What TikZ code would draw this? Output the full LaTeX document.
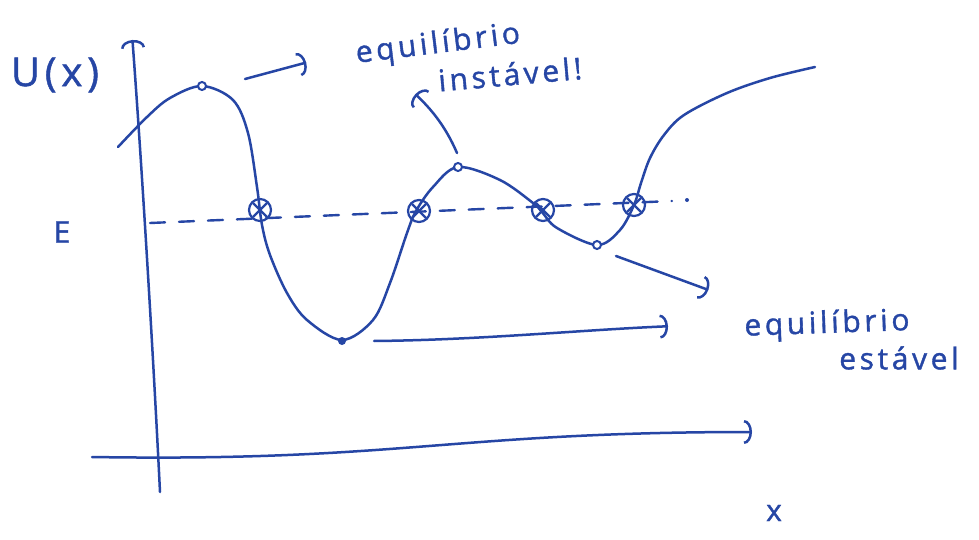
\documentclass[tikz,border=0pt]{standalone}
\usepackage{fontspec}
\setmainfont{Open Sans}
\newfontfamily\handfont[LetterSpace=12,FakeBold=1.2]{Open Sans}
\usetikzlibrary{arrows.meta}
\definecolor{ink}{RGB}{38,70,165}
\begin{document}
\begin{tikzpicture}[x=1pt,y=-1pt,
  inkline/.style={draw=ink, line width=2.5pt, line cap=round, line join=round},
  tipbarb/.style={-{Arc Barb[length=8pt,width=24pt,sep=6pt]}},
  hand/.style={text=ink, font=\handfont\fontsize{30}{34}\selectfont, inner sep=0pt, anchor=center},
  opendot/.style={circle, draw=ink, fill=white, line width=2pt, minimum size=8pt, inner sep=0pt},
  fulldot/.style={circle, fill=ink, minimum size=8pt, inner sep=0pt},
  xmark/.style={circle, draw=ink, line width=2.2pt, minimum size=22pt, inner sep=0pt,
    path picture={\draw[ink, line width=2.2pt]
      ([shift={(-7pt,7pt)}]path picture bounding box.center) -- ([shift={(7pt,-7pt)}]path picture bounding box.center)
      ([shift={(-7pt,-7pt)}]path picture bounding box.center) -- ([shift={(7pt,7pt)}]path picture bounding box.center);}},
  dashline/.style={draw=ink, line width=2.4pt, dash pattern=on 15pt off 14pt, line cap=round}
]
\useasboundingbox (0,0) rectangle (979,540);
\fill[white] (0,0) rectangle (979,540);

% axes
\coordinate (ybot) at (160,492);
\coordinate (ytop) at (132,34);
\draw[inkline, tipbarb] (ybot) .. controls (152,330) and (140,140) .. (ytop);
\coordinate (xl) at (92,457);
\coordinate (xr) at (758,432);
\draw[inkline, tipbarb] (xl) .. controls (400,462) and (450,432) .. (xr);

% energy level
\coordinate (e0) at (150,223);
\coordinate (e1) at (672,201);
\draw[dashline] (e0) -- (e1);
\fill[ink] (687,200) circle (2pt);

% potential curve
\draw[inkline] plot[smooth, tension=0.55] coordinates {
  (118,147) (147,117) (170,98) (202,86) (233,100) (248,133) (257,187) (262,225)
  (270,255) (287,293) (307,320) (342,340) (373,320) (390,283) (407,233) (416,211)
  (433,187) (458,167) (500,180) (533,203) (542,212) (557,228) (597,245) (620,230)
  (634,205) (641,183) (650,158) (664,135) (684,115) (727,93) (770,78) (815,67)};

% markers
\node[opendot] (M1) at (202,86) {};
\node[opendot] (M2) at (458,167) {};
\node[opendot] (m2) at (597,245) {};
\node[fulldot] (m1) at (342,341) {};
\node[xmark] (C1) at (260,210) {};
\node[xmark] (C2) at (419,211) {};
\node[xmark] (C3) at (543,210) {};
\node[xmark] (C4) at (634,205) {};

% labels
\node[hand, font=\handfont\fontsize{40}{44}\selectfont] (U) at (55,75) {U(x)};
\node[hand] (E) at (62,232) {E};
\node[hand] (X) at (774,513) {x};
\node[hand, rotate=7] (t1) at (438,45) {equilíbrio};
\node[hand, rotate=5] (t2) at (510,74) {instável!};
\node[hand, rotate=2] (t3) at (827,325) {equilíbrio};
\node[hand] (t4) at (899,358) {estável};

% pointers
\coordinate (a1s) at (245,79);
\coordinate (a1e) at (312,61);
\draw[inkline, tipbarb] (a1s) -- (a1e);
\coordinate (a2s) at (457,153);
\coordinate (a2e) at (411,90);
\draw[inkline, tipbarb] (a2s) .. controls (445,125) and (430,108) .. (a2e);
\coordinate (a3s) at (616,256);
\coordinate (a3e) at (714,292);
\draw[inkline, tipbarb] (a3s) -- (a3e);
\coordinate (a4s) at (374,341);
\coordinate (a4e) at (674,326);
\draw[inkline, tipbarb] (a4s) .. controls (480,340) and (580,330) .. (a4e);
\end{tikzpicture}
\end{document}
